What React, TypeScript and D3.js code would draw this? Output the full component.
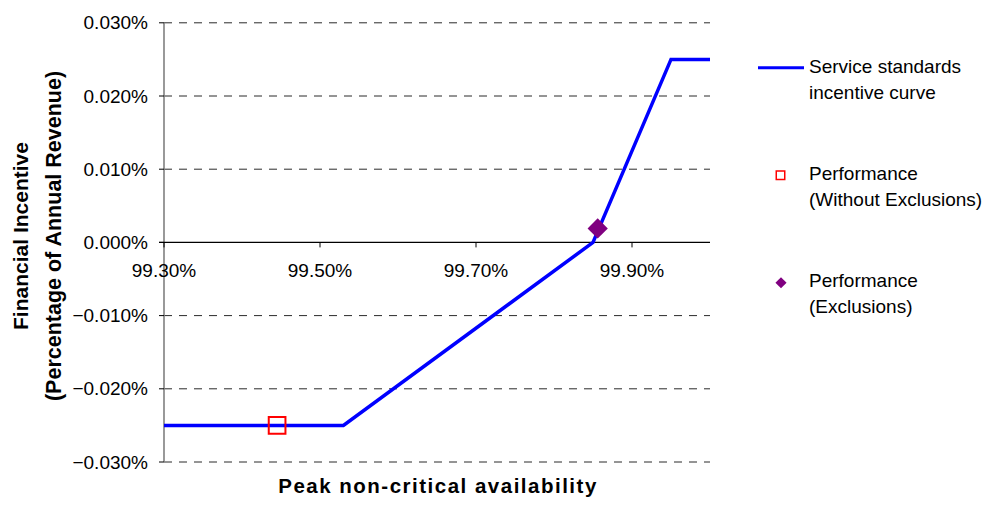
import React from 'react';
import * as d3 from 'd3';

// Incentive curve (peak non-critical availability % -> incentive % of annual revenue)
const availability = [99.3, 99.53, 99.85, 99.95, 100.0];
const incentive = [-0.025, -0.025, 0, 0.025, 0.025];

// Measured performance points
const withoutExclusionsX = [99.445];
const withoutExclusionsY = [-0.025];
const exclusionsX = [99.856];
const exclusionsY = [0.0019];

// Axis ticks
const xTicks = [99.3, 99.5, 99.7, 99.9];
const yTicks = [0.03, 0.02, 0.01, 0, -0.01, -0.02, -0.03];

const legendLabels = [
  ['Service standards', 'incentive curve'],
  ['Performance', '(Without Exclusions)'],
  ['Performance', '(Exclusions)'],
];

const W = 989;
const H = 511;
const FONT = '"Liberation Sans", Arial, sans-serif';

export default function App() {
  const x = d3.scaleLinear().domain([99.3, 100.0]).range([164, 710]);
  const y = d3.scaleLinear().domain([-0.03, 0.03]).range([462, 22.8]);

  const curve = availability.map((a, i) => [a, incentive[i]] as [number, number]);
  const linePath = d3
    .line<[number, number]>()
    .x((d) => x(d[0]))
    .y((d) => y(d[1]))(curve) as string;

  const bigSquare = d3.symbol().type(d3.symbolSquare).size(279)() as string;
  const bigDiamond = d3.symbol().type(d3.symbolSquare).size(205)() as string;
  const smallSquare = d3.symbol().type(d3.symbolSquare).size(72)() as string;
  const smallDiamond = d3.symbol().type(d3.symbolSquare).size(62)() as string;

  const fmtY = (v: number) => d3.format('.3f')(v) + '%';
  const fmtX = (v: number) => d3.format('.2f')(v) + '%';

  const x0 = x.range()[0];
  const x1 = x.range()[1];

  return (
    <svg
      width={W}
      height={H}
      style={{ position: 'absolute', left: 0, top: 0, background: '#fff' }}
      fontFamily={FONT}
    >
      {/* horizontal grid */}
      {yTicks
        .filter((t) => t !== 0)
        .map((t) => (
          <line
            key={'g' + t}
            x1={x0}
            x2={x1}
            y1={y(t)}
            y2={y(t)}
            stroke="#2a2a2a"
            strokeWidth={1}
            strokeDasharray="8 7"
          />
        ))}

      {/* y axis */}
      <line x1={x0} x2={x0} y1={y(0.03)} y2={y(-0.03)} stroke="#808080" strokeWidth={1.6} />
      {yTicks.map((t) => (
        <g key={'yt' + t}>
          <line x1={x0 - 5} x2={x0} y1={y(t)} y2={y(t)} stroke="#000" strokeWidth={1} />
          <text x={148} y={y(t)} dy="0.35em" textAnchor="end" fontSize={19} fill="#000">
            {fmtY(t)}
          </text>
        </g>
      ))}

      {/* x axis through zero */}
      <line x1={x0 - 5} x2={x1} y1={y(0)} y2={y(0)} stroke="#000" strokeWidth={1.2} />
      {xTicks.map((t) => (
        <g key={'xt' + t}>
          <line x1={x(t)} x2={x(t)} y1={y(0)} y2={y(0) + 5} stroke="#000" strokeWidth={1} />
          <text x={x(t)} y={277} textAnchor="middle" fontSize={19} fill="#000">
            {fmtX(t)}
          </text>
        </g>
      ))}

      {/* incentive curve */}
      <path d={linePath} fill="none" stroke="#0000ff" strokeWidth={3.5} strokeLinejoin="miter" />

      {/* performance markers */}
      {withoutExclusionsX.map((v, i) => (
        <path
          key={'we' + i}
          d={bigSquare}
          transform={`translate(${x(v)},${y(withoutExclusionsY[i])})`}
          fill="none"
          stroke="#ff0000"
          strokeWidth={2}
        />
      ))}
      {exclusionsX.map((v, i) => (
        <path
          key={'ex' + i}
          d={bigDiamond}
          transform={`translate(${x(v)},${y(exclusionsY[i])}) rotate(45)`}
          fill="#800080"
        />
      ))}

      {/* axis titles */}
      <text
        x={438}
        y={493}
        textAnchor="middle"
        fontSize={20.5}
        fontWeight="bold"
        letterSpacing={1.5}
        fill="#000"
      >
        Peak non-critical availability
      </text>
      <g transform="translate(21,236) rotate(-90)">
        <text textAnchor="middle" dy="0.35em" fontSize={21} fontWeight="bold" fill="#000">
          Financial Incentive
        </text>
      </g>
      <g transform="translate(53,236) rotate(-90)">
        <text textAnchor="middle" dy="0.35em" fontSize={21.5} fontWeight="bold" fill="#000">
          (Percentage of Annual Revenue)
        </text>
      </g>

      {/* legend */}
      <line x1={758} x2={804} y1={67.7} y2={67.7} stroke="#0000ff" strokeWidth={3} />
      <path d={smallSquare} transform="translate(780.5,175.3)" fill="#fff" stroke="#ff0000" strokeWidth={1.5} />
      <path d={smallDiamond} transform="translate(781,282.8) rotate(45)" fill="#800080" />
      {legendLabels.map((lines, i) => {
        const top = [66.7, 173.3, 280.7][i];
        return (
          <text key={'lg' + i} x={809} fontSize={19} fill="#000">
            {lines.map((s, j) => (
              <tspan key={j} x={809} y={top + j * 26} dy="0.35em">
                {s}
              </tspan>
            ))}
          </text>
        );
      })}
    </svg>
  );
}
